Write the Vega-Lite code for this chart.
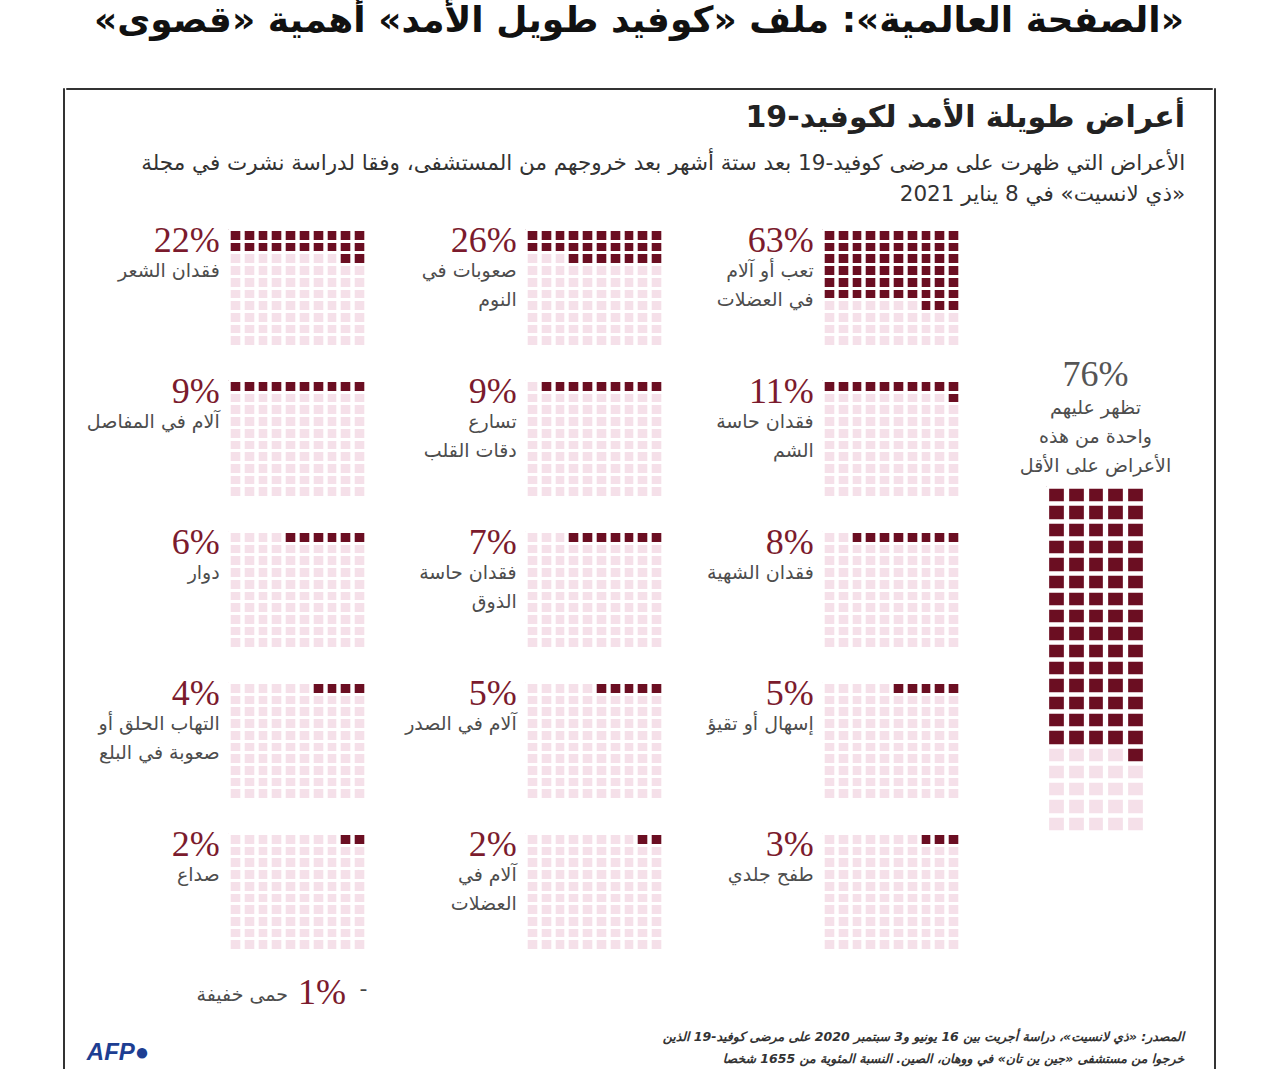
{
  "$schema": "https://vega.github.io/schema/vega-lite/v6.json",
  "padding": {"left": 62, "top": 2, "right": 5, "bottom": 0},
  "background": "white",
  "datasets": {
    "main": [
      {"p": "a", "pct": "22%", "name": "فقدان الشعر"},
      {"p": "b", "pct": "26%", "name": "صعوبات في\nالنوم"},
      {"p": "c", "pct": "63%", "name": "تعب أو آلام\nفي العضلات"},
      {"p": "d", "pct": "9%", "name": "آلام في المفاصل"},
      {"p": "e", "pct": "9%", "name": "تسارع\nدقات القلب"},
      {"p": "f", "pct": "11%", "name": "فقدان حاسة\nالشم"},
      {"p": "g", "pct": "6%", "name": "دوار"},
      {"p": "h", "pct": "7%", "name": "فقدان حاسة\nالذوق"},
      {"p": "i", "pct": "8%", "name": "فقدان الشهية"},
      {"p": "j", "pct": "4%", "name": "التهاب الحلق أو\nصعوبة في البلع"},
      {"p": "k", "pct": "5%", "name": "آلام في الصدر"},
      {"p": "l", "pct": "5%", "name": "إسهال أو تقيؤ"},
      {"p": "m", "pct": "2%", "name": "صداع"},
      {"p": "n", "pct": "2%", "name": "آلام في\nالعضلات"},
      {"p": "o", "pct": "3%", "name": "طفح جلدي"},
      {"p": "m", "npct": "1%", "note": "حمى خفيفة"},
      {"p": "a", "r": 0, "n": 10}, {"p": "a", "r": 1, "n": 10}, {"p": "a", "r": 2, "n": 2},
      {"p": "b", "r": 0, "n": 10}, {"p": "b", "r": 1, "n": 10}, {"p": "b", "r": 2, "n": 7},
      {"p": "c", "r": 0, "n": 10}, {"p": "c", "r": 1, "n": 10}, {"p": "c", "r": 2, "n": 10},
      {"p": "c", "r": 3, "n": 10}, {"p": "c", "r": 4, "n": 10}, {"p": "c", "r": 5, "n": 10},
      {"p": "c", "r": 6, "n": 3},
      {"p": "d", "r": 0, "n": 10},
      {"p": "e", "r": 0, "n": 9},
      {"p": "f", "r": 0, "n": 10}, {"p": "f", "r": 1, "n": 1},
      {"p": "g", "r": 0, "n": 6},
      {"p": "h", "r": 0, "n": 7},
      {"p": "i", "r": 0, "n": 8},
      {"p": "j", "r": 0, "n": 4},
      {"p": "k", "r": 0, "n": 5},
      {"p": "l", "r": 0, "n": 5},
      {"p": "m", "r": 0, "n": 2},
      {"p": "n", "r": 0, "n": 2},
      {"p": "o", "r": 0, "n": 3}
    ],
    "tall": [
      {"pct": "76%", "name": "تظهر عليهم\nواحدة من هذه\nالأعراض على الأقل"},
      {"r": 0, "n": 5}, {"r": 1, "n": 5}, {"r": 2, "n": 5}, {"r": 3, "n": 5},
      {"r": 4, "n": 5}, {"r": 5, "n": 5}, {"r": 6, "n": 5}, {"r": 7, "n": 5},
      {"r": 8, "n": 5}, {"r": 9, "n": 5}, {"r": 10, "n": 5}, {"r": 11, "n": 5},
      {"r": 12, "n": 5}, {"r": 13, "n": 5}, {"r": 14, "n": 5}, {"r": 15, "n": 1}
    ]
  },
  "title": {
    "text": "\u200f«الصفحة العالمية»: ملف «كوفيد طويل الأمد» أهمية «قصوى»\u200f",
    "anchor": "middle",
    "font": "DejaVu Sans",
    "fontSize": 36,
    "fontWeight": "bold",
    "color": "#111111",
    "offset": 48
  },
  "spacing": 0,
  "hconcat": [
    {
      "width": 1,
      "height": 1000,
      "data": {"values": []},
      "mark": "point",
      "view": {"stroke": "#333333", "strokeWidth": 1}
    },
    {
      "spacing": 12,
      "vconcat": [
        {
          "width": 1146,
          "height": 1,
          "data": {"values": []},
          "mark": "point",
          "view": {"stroke": "#333333", "strokeWidth": 1}
        },
        {
          "spacing": 19,
          "hconcat": [
            {
              "width": 1,
              "height": 1,
              "data": {"values": []},
              "mark": "point"
            },
            {
              "title": {
                "text": "\u200fأعراض طويلة الأمد لكوفيد-19\u200f",
                "subtitle": [
                  "\u200fالأعراض التي ظهرت على مرضى كوفيد-19 بعد ستة أشهر بعد خروجهم من المستشفى، وفقا لدراسة نشرت في مجلة\u200f",
                  "\u200f«ذي لانسيت» في 8 يناير 2021\u200f"
                ],
                "anchor": "end",
                "dx": 1,
                "font": "DejaVu Sans",
                "fontSize": 30,
                "fontWeight": "bold",
                "color": "#222222",
                "subtitleFont": "DejaVu Sans",
                "subtitleFontSize": 21.5,
                "subtitleColor": "#333333",
                "subtitleLineHeight": 31,
                "subtitlePadding": 20,
                "offset": 18
              },
              "vconcat": [
                {
                  "title": {
                    "text": [
                      "\u200fالمصدر: «ذي لانسيت»، دراسة أجريت بين 16 يونيو و3 سبتمبر 2020 على مرضى كوفيد-19 الذين\u200f",
                      "\u200fخرجوا من مستشفى «جين ين تان» في ووهان، الصين. النسبة المئوية من 1655 شخصا\u200f"
                    ],
                    "orient": "bottom",
                    "anchor": "end",
                    "dx": 13,
                    "font": "DejaVu Sans",
                    "fontSize": 12.5,
                    "fontStyle": "italic",
                    "color": "#333333",
                    "lineHeight": 22,
                    "offset": -34
                  },
                  "vconcat": [
                    {
                      "title": {
                        "text": "AFP●",
                        "orient": "bottom",
                        "anchor": "start",
                        "font": "Liberation Sans",
                        "fontSize": 24,
                        "fontWeight": "bold",
                        "fontStyle": "italic",
                        "color": "#1d3e92",
                        "offset": 30
                      },
                      "spacing": 59,
                      "bounds": "full",
                      "hconcat": [
                        {
                          "data": {"name": "main"},
                          "facet": {
                            "field": "p",
                            "type": "nominal",
                            "sort": ["a", "b", "c", "d", "e", "f", "g", "h", "i", "j", "k", "l", "m", "n", "o"],
                            "header": {"title": null, "labels": false, "labelExpr": "''", "labelPadding": 0, "titlePadding": 0, "labelFontSize": 0, "labelColor": "white"}
                          },
                          "columns": 3,
                          "spacing": {"row": 34, "column": 159},
                          "bounds": "flush",
                          "spec": {
                            "width": 138,
                            "height": 117,
                            "layer": [
                              {
                                "transform": [{"filter": "isValid(datum.pct)"}],
                                "mark": {"type": "rect", "color": "#f5e0e9"},
                                "encoding": {
                                  "x": {"datum": 0, "type": "quantitative",
                                        "scale": {"domain": [0, 10], "reverse": true, "nice": false, "zero": false},
                                        "axis": {"values": [0, 1, 2, 3, 4, 5, 6, 7, 8, 9, 10], "title": null, "grid": true, "gridColor": "#ffffff", "gridOpacity": 1, "gridWidth": 4.4, "zindex": 1, "labels": false, "ticks": false, "domain": false}},
                                  "x2": {"datum": 10},
                                  "y": {"datum": 0, "type": "quantitative",
                                        "scale": {"domain": [0, 10], "reverse": true, "nice": false, "zero": false},
                                        "axis": {"values": [0, 1, 2, 3, 4, 5, 6, 7, 8, 9, 10], "title": null, "grid": true, "gridColor": "#ffffff", "gridOpacity": 1, "gridWidth": 3.2, "zindex": 1, "labels": false, "ticks": false, "domain": false}},
                                  "y2": {"datum": 10}
                                }
                              },
                              {
                                "transform": [{"filter": "isValid(datum.n)"}],
                                "mark": {"type": "rect", "color": "#6b0e22"},
                                "encoding": {
                                  "x": {"field": "n", "type": "quantitative",
                                        "axis": {"values": [0, 1, 2, 3, 4, 5, 6, 7, 8, 9, 10], "title": null, "grid": true, "gridColor": "#ffffff", "gridOpacity": 1, "gridWidth": 4.4, "zindex": 1, "labels": false, "ticks": false, "domain": false}},
                                  "x2": {"datum": 0},
                                  "y": {"field": "r", "type": "quantitative", "bin": {"step": 1, "extent": [0, 10]},
                                        "axis": {"values": [0, 1, 2, 3, 4, 5, 6, 7, 8, 9, 10], "title": null, "grid": true, "gridColor": "#ffffff", "gridOpacity": 1, "gridWidth": 3.2, "zindex": 1, "labels": false, "ticks": false, "domain": false}}
                                }
                              },
                              {
                                "transform": [{"filter": "isValid(datum.pct)"}],
                                "mark": {"type": "text", "align": "right", "baseline": "alphabetic", "font": "Liberation Serif", "fontSize": 36, "color": "#7b1b2d"},
                                "encoding": {
                                  "x": {"datum": 10.6, "type": "quantitative",
                                        "axis": {"values": [0, 1, 2, 3, 4, 5, 6, 7, 8, 9, 10], "title": null, "grid": true, "gridColor": "#ffffff", "gridOpacity": 1, "gridWidth": 4.4, "zindex": 1, "labels": false, "ticks": false, "domain": false}},
                                  "y": {"datum": 1.97, "type": "quantitative",
                                        "axis": {"values": [0, 1, 2, 3, 4, 5, 6, 7, 8, 9, 10], "title": null, "grid": true, "gridColor": "#ffffff", "gridOpacity": 1, "gridWidth": 3.2, "zindex": 1, "labels": false, "ticks": false, "domain": false}},
                                  "text": {"field": "pct"}
                                }
                              },
                              {
                                "transform": [{"filter": "isValid(datum.pct)"}],
                                "mark": {"type": "text", "align": "right", "baseline": "alphabetic", "font": "DejaVu Sans", "fontSize": 19, "color": "#4d4d4d", "lineBreak": "\n", "lineHeight": 29},
                                "encoding": {
                                  "x": {"datum": 10.6, "type": "quantitative",
                                        "axis": {"values": [0, 1, 2, 3, 4, 5, 6, 7, 8, 9, 10], "title": null, "grid": true, "gridColor": "#ffffff", "gridOpacity": 1, "gridWidth": 4.4, "zindex": 1, "labels": false, "ticks": false, "domain": false}},
                                  "y": {"datum": 4.1, "type": "quantitative",
                                        "axis": {"values": [0, 1, 2, 3, 4, 5, 6, 7, 8, 9, 10], "title": null, "grid": true, "gridColor": "#ffffff", "gridOpacity": 1, "gridWidth": 3.2, "zindex": 1, "labels": false, "ticks": false, "domain": false}},
                                  "text": {"field": "name"}
                                }
                              },
                              {
                                "transform": [{"filter": "isValid(datum.note)"}],
                                "mark": {"type": "text", "align": "right", "baseline": "alphabetic", "font": "DejaVu Sans", "fontSize": 22, "color": "#444444"},
                                "encoding": {
                                  "x": {"datum": -0.1, "type": "quantitative",
                                        "axis": {"values": [0, 1, 2, 3, 4, 5, 6, 7, 8, 9, 10], "title": null, "grid": true, "gridColor": "#ffffff", "gridOpacity": 1, "gridWidth": 4.4, "zindex": 1, "labels": false, "ticks": false, "domain": false}},
                                  "y": {"datum": 13.9, "type": "quantitative",
                                        "axis": {"values": [0, 1, 2, 3, 4, 5, 6, 7, 8, 9, 10], "title": null, "grid": true, "gridColor": "#ffffff", "gridOpacity": 1, "gridWidth": 3.2, "zindex": 1, "labels": false, "ticks": false, "domain": false}},
                                  "text": {"value": "-"}
                                }
                              },
                              {
                                "transform": [{"filter": "isValid(datum.note)"}],
                                "mark": {"type": "text", "align": "right", "baseline": "alphabetic", "font": "Liberation Serif", "fontSize": 36, "color": "#7b1b2d"},
                                "encoding": {
                                  "x": {"datum": 1.45, "type": "quantitative",
                                        "axis": {"values": [0, 1, 2, 3, 4, 5, 6, 7, 8, 9, 10], "title": null, "grid": true, "gridColor": "#ffffff", "gridOpacity": 1, "gridWidth": 4.4, "zindex": 1, "labels": false, "ticks": false, "domain": false}},
                                  "y": {"datum": 14.6, "type": "quantitative",
                                        "axis": {"values": [0, 1, 2, 3, 4, 5, 6, 7, 8, 9, 10], "title": null, "grid": true, "gridColor": "#ffffff", "gridOpacity": 1, "gridWidth": 3.2, "zindex": 1, "labels": false, "ticks": false, "domain": false}},
                                  "text": {"field": "npct"}
                                }
                              },
                              {
                                "transform": [{"filter": "isValid(datum.note)"}],
                                "mark": {"type": "text", "align": "right", "baseline": "alphabetic", "font": "DejaVu Sans", "fontSize": 19, "color": "#4d4d4d"},
                                "encoding": {
                                  "x": {"datum": 5.65, "type": "quantitative",
                                        "axis": {"values": [0, 1, 2, 3, 4, 5, 6, 7, 8, 9, 10], "title": null, "grid": true, "gridColor": "#ffffff", "gridOpacity": 1, "gridWidth": 4.4, "zindex": 1, "labels": false, "ticks": false, "domain": false}},
                                  "y": {"datum": 14.4, "type": "quantitative",
                                        "axis": {"values": [0, 1, 2, 3, 4, 5, 6, 7, 8, 9, 10], "title": null, "grid": true, "gridColor": "#ffffff", "gridOpacity": 1, "gridWidth": 3.2, "zindex": 1, "labels": false, "ticks": false, "domain": false}},
                                  "text": {"field": "note"}
                                }
                              }
                            ]
                          }
                        },
                        {
                          "data": {"name": "tall"},
                          "spacing": 0,
                          "bounds": "flush",
                          "vconcat": [
                            {
                              "width": 99,
                              "height": 257,
                              "transform": [{"filter": "isValid(datum.pct)"}],
                              "layer": [
                                {
                                  "mark": {"type": "text", "align": "center", "baseline": "alphabetic", "font": "Liberation Serif", "fontSize": 36, "color": "#555555"},
                                  "encoding": {
                                    "x": {"datum": 0.5, "type": "quantitative", "scale": {"domain": [0, 1]}, "axis": null},
                                    "y": {"datum": 0.611, "type": "quantitative", "scale": {"domain": [0, 1], "reverse": true}, "axis": null},
                                    "text": {"field": "pct"}
                                  }
                                },
                                {
                                  "mark": {"type": "text", "align": "center", "baseline": "alphabetic", "font": "DejaVu Sans", "fontSize": 19, "color": "#4d4d4d", "lineBreak": "\n", "lineHeight": 29},
                                  "encoding": {
                                    "x": {"datum": 0.5, "type": "quantitative", "axis": null},
                                    "y": {"datum": 0.72, "type": "quantitative", "axis": null},
                                    "text": {"field": "name"}
                                  }
                                }
                              ]
                            },
                            {
                              "width": 99,
                              "height": 346,
                              "layer": [
                                {
                                  "transform": [{"filter": "isValid(datum.pct)"}],
                                  "mark": {"type": "rect", "color": "#f5e0e9"},
                                  "encoding": {
                                    "x": {"datum": 0, "type": "quantitative",
                                          "scale": {"domain": [0, 5], "reverse": true, "nice": false, "zero": false},
                                          "axis": {"values": [0, 1, 2, 3, 4, 5], "title": null, "grid": true, "gridColor": "#ffffff", "gridOpacity": 1, "gridWidth": 5.3, "zindex": 1, "labels": false, "ticks": false, "domain": false}},
                                    "x2": {"datum": 5},
                                    "y": {"datum": 0, "type": "quantitative",
                                          "scale": {"domain": [0, 20], "reverse": true, "nice": false, "zero": false},
                                          "axis": {"values": [0, 1, 2, 3, 4, 5, 6, 7, 8, 9, 10, 11, 12, 13, 14, 15, 16, 17, 18, 19, 20], "title": null, "grid": true, "gridColor": "#ffffff", "gridOpacity": 1, "gridWidth": 4.3, "zindex": 1, "labels": false, "ticks": false, "domain": false}},
                                    "y2": {"datum": 20}
                                  }
                                },
                                {
                                  "transform": [{"filter": "isValid(datum.n)"}],
                                  "mark": {"type": "rect", "color": "#6b0e22"},
                                  "encoding": {
                                    "x": {"field": "n", "type": "quantitative",
                                          "axis": {"values": [0, 1, 2, 3, 4, 5], "title": null, "grid": true, "gridColor": "#ffffff", "gridOpacity": 1, "gridWidth": 5.3, "zindex": 1, "labels": false, "ticks": false, "domain": false}},
                                    "x2": {"datum": 0},
                                    "y": {"field": "r", "type": "quantitative", "bin": {"step": 1, "extent": [0, 20]},
                                          "axis": {"values": [0, 1, 2, 3, 4, 5, 6, 7, 8, 9, 10, 11, 12, 13, 14, 15, 16, 17, 18, 19, 20], "title": null, "grid": true, "gridColor": "#ffffff", "gridOpacity": 1, "gridWidth": 4.3, "zindex": 1, "labels": false, "ticks": false, "domain": false}}
                                  }
                                }
                              ]
                            }
                          ]
                        }
                      ]
                    }
                  ]
                }
              ]
            }
          ]
        }
      ]
    },
    {
      "width": 1,
      "height": 1000,
      "data": {"values": []},
      "mark": "point",
      "view": {"stroke": "#333333", "strokeWidth": 1}
    }
  ],
  "config": {
    "view": {"stroke": null},
    "header": {"labels": false, "labelFontSize": 0, "labelPadding": 0, "titlePadding": 0}
  }
}
